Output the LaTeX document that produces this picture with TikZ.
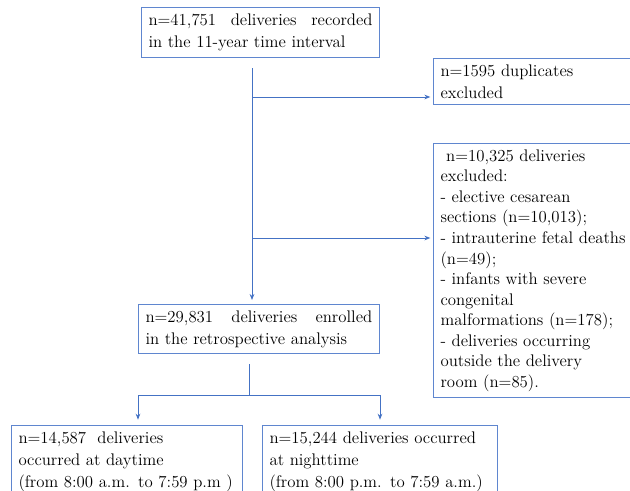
\documentclass[tikz,border=0pt]{standalone}
\usetikzlibrary{arrows.meta}
\definecolor{bline}{HTML}{4472C4}
\definecolor{bbox}{HTML}{5F86CF}
\hbadness=10000 \hfuzz=50pt
\begin{document}
\begin{tikzpicture}[x=0.75pt,y=-0.75pt,
  box/.style={draw=bbox, line width=0.8pt, anchor=north west, align=left,
    inner xsep=5.25pt, inner ysep=4.6pt, font=\fontsize{12.6}{16.5}\selectfont, text=black},
  conn/.style={draw=bline, line width=0.6pt},
  arr/.style={conn, -{Stealth[length=4.5pt,width=3.5pt]}}]
\useasboundingbox (0,0) rectangle (630,490);
\clip (0,0) rectangle (630,490);
% boxes
\node[box, text width=168pt, minimum height=37.5pt] (top) at (141,7)
  {\hbox to 168pt{n=41,751\hfill deliveries\hfill recorded}\\in the 11-year time interval};
\node[box, text width=200pt] (dup) at (433,58)
  {n=1595 duplicates\\excluded};
\node[box, text width=200pt, font=\fontsize{12.6}{15.4}\selectfont] (excl) at (433,143)
  {\ n=10,325 deliveries\\excluded:\\- elective cesarean\\sections (n=10,013);\\- intrauterine fetal deaths\\(n=49);\\- infants with severe\\congenital\\malformations (n=178);\\- deliveries occurring\\outside the delivery\\room (n=85).};
\node[box, text width=170pt, minimum height=36pt] (enr) at (138,304)
  {\hbox to 170pt{n=29,831\hfill deliveries\hfill enrolled}\\in the retrospective analysis};
\node[box, text width=162.75pt] (day) at (11,425)
  {\mbox{n=14,587\ \ deliveries}\\\mbox{occurred at daytime}\\\mbox{(from 8:00 a.m. to 7:59 p.m )}};
\node[box, text width=165.75pt] (night) at (262,425)
  {\mbox{n=15,244 deliveries occurred}\\\mbox{at nighttime}\\\mbox{(from 8:00 p.m. to 7:59 a.m.)}};
% connectors
\coordinate (s0) at (252,68);
\coordinate (b1) at (252,97);
\coordinate (b2) at (252,238);
\draw[arr, shorten >=3pt] (s0) -- (s0 |- enr.north);
\draw[arr, shorten >=2pt] (b1) -- (b1 -| dup.west);
\draw[arr, shorten >=2pt] (b2) -- (b2 -| excl.west);
\coordinate (s1) at (249,364);
\coordinate (j) at (249,395);
\coordinate (jl) at (138,395);
\coordinate (jr) at (380,395);
\draw[conn] (s1) -- (j);
\draw[conn] (jl) -- (jr);
\draw[arr, shorten >=4pt] (jl) -- (jl |- day.north);
\draw[arr, shorten >=4pt] (jr) -- (jr |- night.north);
\end{tikzpicture}
\end{document}
